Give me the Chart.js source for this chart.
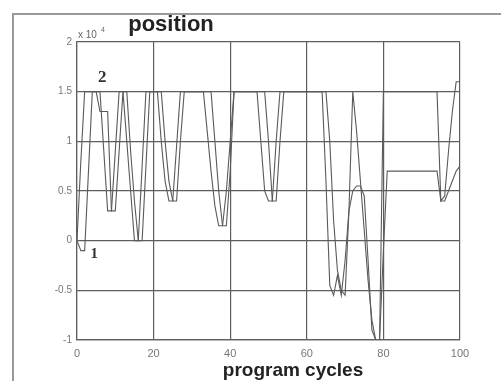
<!DOCTYPE html>
<html>
<head>
<meta charset="utf-8">
<script src="https://cdn.jsdelivr.net/npm/chart.js@4"></script>
<style>
  html, body { margin: 0; padding: 0; background: #fff; }
  #wrap { width: 501px; height: 381px; position: relative; }
</style>
</head>
<body>
<div id="wrap"><canvas id="positionChart" width="501" height="381"></canvas></div>
<script>
// program cycles 0..100
const cycles = [
  0, 1, 2, 3, 4, 5, 6, 7, 8, 9,
  10, 11, 12, 13, 14, 15, 16, 17, 18, 19,
  20, 21, 22, 23, 24, 25, 26, 27, 28, 29,
  30, 31, 32, 33, 34, 35, 36, 37, 38, 39,
  40, 41, 42, 43, 44, 45, 46, 47, 48, 49,
  50, 51, 52, 53, 54, 55, 56, 57, 58, 59,
  60, 61, 62, 63, 64, 65, 66, 67, 68, 69,
  70, 71, 72, 73, 74, 75, 76, 77, 78, 79,
  80, 81, 82, 83, 84, 85, 86, 87, 88, 89,
  90, 91, 92, 93, 94, 95, 96, 97, 98, 99,
  100
];

// curve 1 (x 10^4)
const position1 = [
  0, -0.1, -0.1, 0.7, 1.5, 1.5, 1.5, 0.9, 0.3, 0.3,
  0.9, 1.5, 1.5, 1.0, 0.5, 0.0, 0.0, 0.75, 1.5, 1.5,
  1.5, 1.5, 1.0, 0.6, 0.4, 0.4, 0.95, 1.5, 1.5, 1.5,
  1.5, 1.5, 1.5, 1.5, 1.1, 0.7, 0.35, 0.15, 0.15, 0.5,
  1.0, 1.5, 1.5, 1.5, 1.5, 1.5, 1.5, 1.5, 1.0, 0.5,
  0.4, 0.4, 1.0, 1.5, 1.5, 1.5, 1.5, 1.5, 1.5, 1.5,
  1.5, 1.5, 1.5, 1.5, 1.5, 0.6, -0.45, -0.55, -0.35, -0.55,
  -0.2, 0.3, 0.5, 0.55, 0.55, 0.45, -0.2, -0.9, -1.0, -1.0,
  -0.1, 0.7, 0.7, 0.7, 0.7, 0.7, 0.7, 0.7, 0.7, 0.7,
  0.7, 0.7, 0.7, 0.7, 0.7, 0.4, 0.4, 0.5, 0.6, 0.7,
  0.75
];

// curve 2 (x 10^4)
const position2 = [
  0, 0.8, 1.5, 1.5, 1.5, 1.5, 1.3, 1.3, 1.3, 0.3,
  0.3, 0.9, 1.5, 1.5, 0.9, 0.4, 0.0, 0.0, 0.75, 1.5,
  1.5, 1.5, 1.5, 1.0, 0.6, 0.4, 0.4, 1.0, 1.5, 1.5,
  1.5, 1.5, 1.5, 1.5, 1.5, 1.5, 1.0, 0.5, 0.15, 0.15,
  0.7, 1.5, 1.5, 1.5, 1.5, 1.5, 1.5, 1.5, 1.5, 1.5,
  1.0, 0.4, 0.4, 1.0, 1.5, 1.5, 1.5, 1.5, 1.5, 1.5,
  1.5, 1.5, 1.5, 1.5, 1.5, 1.5, 1.0, 0.2, -0.3, -0.5,
  -0.55, 0.3, 1.5, 1.1, 0.6, 0.1, -0.4, -0.8, -1.0, -1.0,
  1.5, 1.5, 1.5, 1.5, 1.5, 1.5, 1.5, 1.5, 1.5, 1.5,
  1.5, 1.5, 1.5, 1.5, 1.5, 0.4, 0.45, 0.9, 1.3, 1.6,
  1.6
];

const xTicks = [0, 20, 40, 60, 80, 100];
const yTicks = [-1, -0.5, 0, 0.5, 1, 1.5, 2];

const lineColor = '#5a5a5a';
const gridColor = '#5e5e5e';
const tickColor = '#777';

function toPoints(ys) {
  return cycles.map((c, i) => ({ x: c, y: ys[i] }));
}

// frame of the figure, titles and curve labels
const figureText = {
  id: 'figureText',
  beforeDraw(chart) {
    const ctx = chart.ctx;
    ctx.save();
    ctx.fillStyle = '#fff';
    ctx.fillRect(0, 0, chart.width, chart.height);
    ctx.strokeStyle = '#9a9a9a';
    ctx.lineWidth = 2;
    ctx.strokeRect(13, 14, chart.width, chart.height);
    ctx.restore();
  },
  afterDraw(chart) {
    const ctx = chart.ctx;
    const area = chart.chartArea;
    const xs = chart.scales.x, ys = chart.scales.y;
    ctx.save();
    ctx.fillStyle = '#222';
    ctx.textBaseline = 'alphabetic';
    ctx.textAlign = 'center';
    ctx.font = 'bold 22px "Liberation Sans", Arial, sans-serif';
    ctx.fillText('position', 171, 31);
    ctx.font = 'bold 19px "Liberation Sans", Arial, sans-serif';
    ctx.fillText('program cycles', 293, 376);

    ctx.fillStyle = '#666';
    ctx.textAlign = 'left';
    ctx.font = '10px "Liberation Sans", Arial, sans-serif';
    ctx.fillText('x 10', area.left + 1, area.top - 4);
    ctx.font = '7px "Liberation Sans", Arial, sans-serif';
    ctx.fillText('4', area.left + 24, area.top - 10);

    ctx.fillStyle = '#333';
    ctx.textAlign = 'center';
    ctx.font = 'bold 17px "Liberation Serif", "DejaVu Serif", serif';
    ctx.fillText('2', xs.getPixelForValue(6.6), ys.getPixelForValue(1.6));
    ctx.font = 'bold 15px "Liberation Serif", "DejaVu Serif", serif';
    ctx.fillText('1', xs.getPixelForValue(4.5), ys.getPixelForValue(-0.17));
    ctx.restore();
  }
};

const ctx = document.getElementById('positionChart').getContext('2d');
const positionChart = new Chart(ctx, {
  type: 'line',
  data: {
    datasets: [
      {
        label: '1',
        data: toPoints(position1),
        borderColor: lineColor,
        borderWidth: 1.1,
        pointRadius: 0,
        tension: 0,
        fill: false
      },
      {
        label: '2',
        data: toPoints(position2),
        borderColor: lineColor,
        borderWidth: 1.1,
        pointRadius: 0,
        tension: 0,
        fill: false
      }
    ]
  },
  options: {
    responsive: false,
    animation: false,
    events: [],
    layout: { padding: { left: 0, top: 42, right: 41, bottom: 0 } },
    plugins: {
      legend: { display: false },
      tooltip: { enabled: false },
      title: { display: false }
    },
    scales: {
      x: {
        type: 'linear',
        min: 0,
        max: 100,
        afterBuildTicks: scale => { scale.ticks = xTicks.map(v => ({ value: v })); },
        afterFit: scale => { scale.height = 41; },
        grid: { color: gridColor, lineWidth: 1.2, drawTicks: false },
        border: { color: gridColor, width: 1.2 },
        ticks: {
          color: tickColor,
          padding: 7,
          font: { size: 11, family: '"Liberation Sans", Arial, sans-serif' }
        }
      },
      y: {
        type: 'linear',
        min: -1,
        max: 2,
        afterBuildTicks: scale => { scale.ticks = yTicks.map(v => ({ value: v })); },
        afterFit: scale => { scale.width = 77; },
        grid: { color: gridColor, lineWidth: 1.2, drawTicks: false },
        border: { color: gridColor, width: 1.2 },
        ticks: {
          color: tickColor,
          padding: 5,
          font: { size: 10, family: '"Liberation Sans", Arial, sans-serif' },
          callback: v => String(v)
        }
      }
    }
  },
  plugins: [figureText]
});
</script>
</body>
</html>
